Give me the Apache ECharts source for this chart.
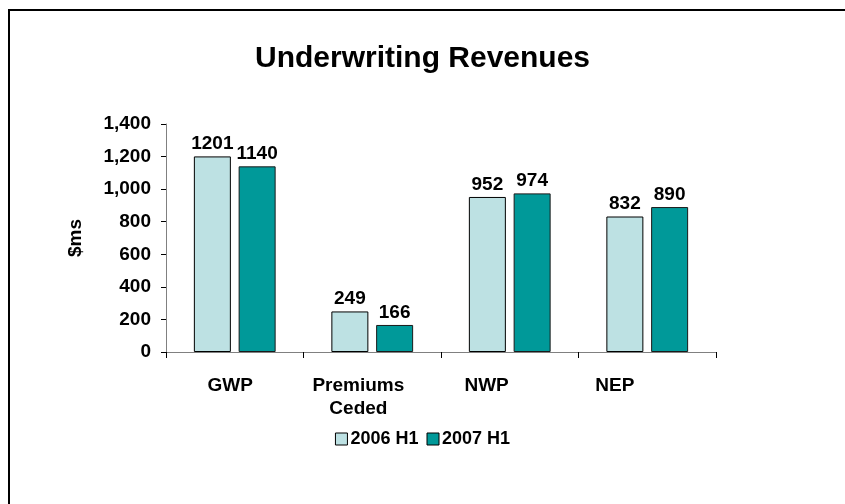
<!DOCTYPE html>
<html>
<head>
<meta charset="utf-8">
<script src="https://cdn.jsdelivr.net/npm/echarts@6/dist/echarts.min.js"></script>
<style>
  html, body { margin: 0; padding: 0; background: #fff; }
  #chart { width: 845px; height: 504px; }
</style>
</head>
<body>
<div id="chart"></div>
<script>
// data
const categories = ["GWP", "Premiums\nCeded", "NWP", "NEP"];
const seriesNames = ["2006 H1", "2007 H1"];
const values2006 = [1201, 249, 952, 832];
const values2007 = [1140, 166, 974, 890];
const yTicks = [0, 200, 400, 600, 800, 1000, 1200, 1400];

const chart = echarts.init(document.getElementById("chart"));
const font = "Liberation Sans, Arial, sans-serif";

const labelStyle = {
  show: true,
  position: "top",
  distance: 3,
  color: "#000",
  fontWeight: "bold",
  fontSize: 19,
  fontFamily: font,
};

const option = {
  animation: false,
  backgroundColor: "#fff",
  textStyle: { fontFamily: font },
  title: {
    text: "Underwriting Revenues",
    left: "center",
    top: 39,
    textStyle: { fontSize: 30, fontWeight: "bold", color: "#000", fontFamily: font },
  },
  legend: {
    data: seriesNames,
    top: 425,
    left: "center",
    itemWidth: 12,
    itemHeight: 12,
    itemGap: 8,
    icon: "rect",
    itemStyle: { borderColor: "#000", borderWidth: 1 },
    textStyle: { fontSize: 18, fontWeight: "bold", color: "#000", fontFamily: font, padding: [0, 0, 0, -2] },
  },
  graphic: [
    {
      type: "rect",
      shape: { x: 9, y: 10, width: 900, height: 600 },
      style: { fill: "none", stroke: "#000", lineWidth: 2 },
    },
  ],
  grid: [
    { left: 166, right: 129, top: 124, bottom: 152 },
    // labels only, laid out like the reference
    { left: 166, right: 166, top: 124, bottom: 152 },
  ],
  xAxis: [
    {
      type: "category",
      gridIndex: 0,
      data: categories,
      axisLine: { lineStyle: { color: "#808080", width: 1 } },
      axisTick: { show: true, length: 6, lineStyle: { color: "#000" } },
      axisLabel: { show: false },
    },
    {
      type: "category",
      gridIndex: 1,
      data: categories,
      axisLine: { show: false },
      axisTick: { show: false },
      axisLabel: {
        margin: 22,
        color: "#000",
        fontSize: 19,
        fontWeight: "bold",
        lineHeight: 23,
        fontFamily: font,
      },
    },
  ],
  yAxis: [
    {
      type: "value",
      gridIndex: 0,
      min: 0,
      max: 1400,
      interval: 200,
      name: "$ms",
      nameLocation: "middle",
      nameGap: 81,
      nameRotate: 90,
      nameTextStyle: { fontSize: 19, fontWeight: "bold", color: "#000", fontFamily: font },
      splitLine: { show: false },
      axisLine: { show: true, lineStyle: { color: "#808080", width: 1 } },
      axisTick: { show: true, length: 5, lineStyle: { color: "#000" } },
      axisLabel: {
        margin: 15,
        color: "#000",
        fontSize: 19,
        fontWeight: "bold",
        fontFamily: font,
        formatter: (v) => (yTicks.includes(v) ? v.toLocaleString("en-US") : ""),
      },
    },
    {
      type: "value",
      gridIndex: 1,
      show: false,
    },
  ],
  series: [
    {
      name: seriesNames[0],
      type: "bar",
      xAxisIndex: 0,
      yAxisIndex: 0,
      data: values2006,
      barWidth: 37,
      barGap: "21%",
      itemStyle: { color: "#BDE1E3", borderColor: "#000", borderWidth: 1 },
      label: labelStyle,
    },
    {
      name: seriesNames[1],
      type: "bar",
      xAxisIndex: 0,
      yAxisIndex: 0,
      data: values2007,
      barWidth: 37,
      barGap: "21%",
      itemStyle: { color: "#009999", borderColor: "#1a1a1a", borderWidth: 1 },
      label: labelStyle,
    },
  ],
};

chart.setOption(option);
</script>
</body>
</html>
